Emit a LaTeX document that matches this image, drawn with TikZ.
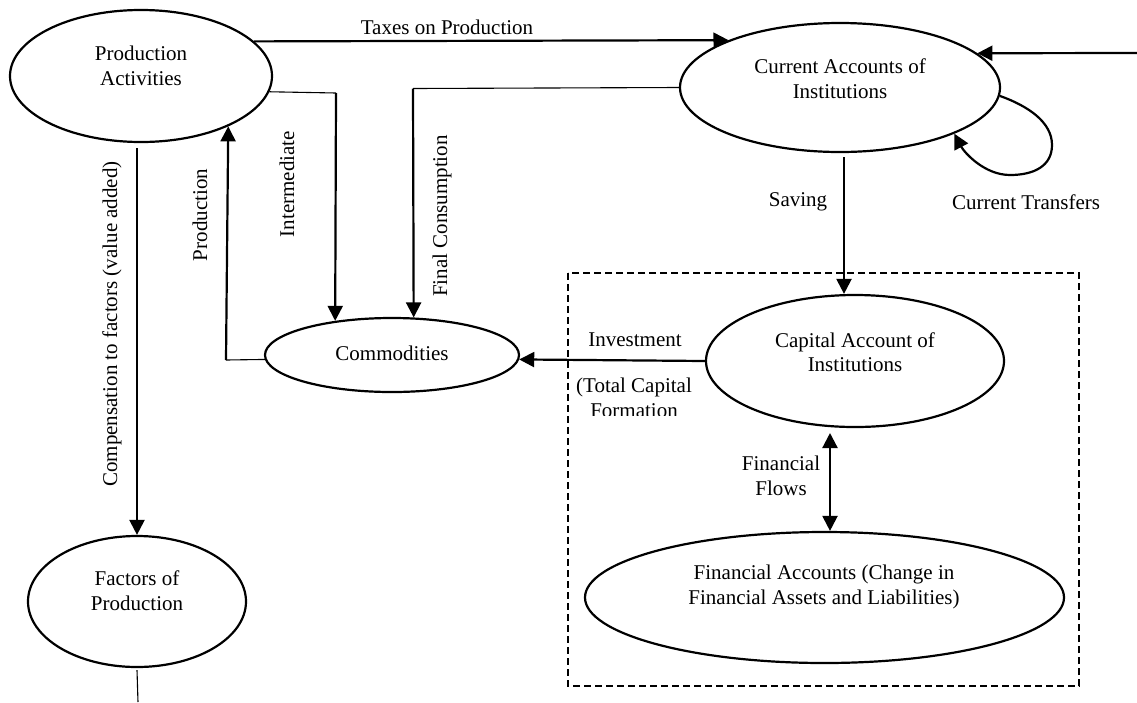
\documentclass[tikz,border=0pt]{standalone}
\usepackage{fontspec}
\setmainfont{Liberation Serif}
\usetikzlibrary{arrows.meta,shapes.geometric}
\begin{document}
\begin{tikzpicture}[x=1pt,y=-1pt,
  ell/.style={ellipse,draw,line width=2.2pt,inner sep=0pt},
  lbl/.style={font=\fontsize{21}{24.5}\selectfont,align=center,inner sep=0pt},
  flow/.style={line width=2.2pt,-{Triangle[length=15pt,width=15pt]}},
  dflow/.style={line width=2.2pt,{Triangle[length=15pt,width=15pt]}-{Triangle[length=15pt,width=15pt]}},
  thinline/.style={line width=1.1pt},
  boxline/.style={line width=2pt,dash pattern=on 7pt off 4pt}]
\useasboundingbox (0,0) rectangle (1137,702);

% ellipses
\node[ell,minimum width=262pt,minimum height=132pt] (PA) at (141,76) {};
\node[ell,minimum width=320pt,minimum height=129pt] (CA) at (840,87.5) {};
\node[ell,minimum width=254pt,minimum height=74pt] (CM) at (392,355) {};
\node[ell,minimum width=298pt,minimum height=132pt] (CP) at (855,361) {};
\node[ell,minimum width=479pt,minimum height=131pt] (FA) at (824.5,597.5) {};
\node[ell,minimum width=218pt,minimum height=131pt] (FP) at (137,601.5) {};

% ellipse texts
\node[lbl] (tPA) at (141,66) {Production\\Activities};
\node[lbl] (tCA) at (840,78.5) {Current Accounts of\\Institutions};
\node[lbl] (tCM) at (392,353) {Commodities};
\node[lbl] (tCP) at (855,352) {Capital Account of\\Institutions};
\node[lbl] (tFA) at (824,587) {Financial Accounts (Change in\\Financial Assets and Liabilities)};
\node[lbl] (tFP) at (137,590.5) {Factors of\\Production};

% dashed frame
\draw[boxline] (568,273) rectangle (1079,686);

% named free ends / bends
\coordinate (i1) at (336,93);
\coordinate (f1) at (413,88.5);
\coordinate (p1) at (226,360);
\coordinate (s1) at (844,157);
\coordinate (ff1) at (830,433);
\coordinate (r1) at (1137,53);
\coordinate (b1) at (138,702);

% Taxes on production
\draw[flow] (PA.17.5) -- (CA.157.3);
\node[lbl] (lTax) at (447,27) {Taxes on Production};

% Intermediate
\draw[thinline] (PA.-7.65) -- (i1);
\draw[flow] (i1) -- (CM.149.34);
\node[lbl,rotate=90] (lInt) at (287,184) {Intermediate};

% Final consumption
\draw[thinline] (CA.west) -- (f1);
\draw[flow] (f1) -- (CM.60.1);
\node[lbl,rotate=90] (lFin) at (442,216) {Final Consumption};

% Production
\draw[thinline] (CM.182.3) -- (p1);
\draw[flow] (p1) -- (PA.-30.57);
\node[lbl,rotate=90] (lProd) at (200,215) {Production};

% Compensation
\draw[flow] ([yshift=-5pt]PA.south -| FP.north) -- (FP.north);
\node[lbl,rotate=90] (lComp) at (112,324) {Compensation to factors (value added)};
\draw[thinline] ([yshift=-2pt]FP.south) -- (b1);

% Investment
\draw[flow] (CP.west) -- (CM.-2.7);
\node[lbl] (lInv) at (635,340) {Investment};
\node[lbl] (lTot) at (634,387) {(Total Capital};
\begin{scope}
  \clip (580,372) rectangle (720,415.7);
  \node[lbl] (lForm) at (634,411) {Formation};
\end{scope}

% Saving
\draw[flow] (s1) -- (s1 |- CP.north);
\node[lbl] (lSav) at (798,202) {Saving};

% Financial flows
\draw[dflow] (ff1) -- (ff1 |- FA.north);
\node[lbl] (lFF) at (781,476) {Financial\\Flows};

% incoming from right
\draw[flow] (r1) -- (CA.14.31);

% current transfers loop
\draw[flow] (CA.-3.4) .. controls (1028,106) and (1052,122) .. (1052,145)
  .. controls (1052,166) and (1034,175) .. (1010,175)
  .. controls (984,175) and (964,152) .. (CA.-22.5);
\node[lbl] (lCT) at (1026,202) {Current Transfers};
\end{tikzpicture}
\end{document}
